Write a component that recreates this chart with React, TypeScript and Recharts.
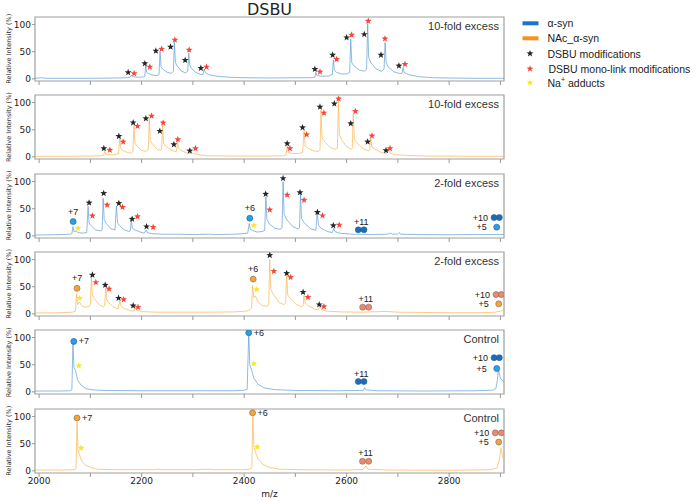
import { ComposedChart, Line, Scatter, XAxis, YAxis, ReferenceArea } from "recharts";

// axis values
const mzTicks = [2000, 2100, 2200, 2300, 2400, 2500, 2600, 2700, 2800, 2900];
const intensityTicks = [0, 50, 100];
const panelLabels = ["10-fold excess", "10-fold excess", "2-fold excess", "2-fold excess", "Control", "Control"];

// spectra: [m/z, relative intensity]
const synExcess10 = [
  [1992, 1], [2007, 2], [2012, 1], [2100, 1], [2150, 1.5], [2170, 2], [2178, 3], [2180, 7], [2182, 4], [2190, 3],
  [2200, 3], [2206, 4], [2208, 25], [2210, 12], [2213, 10], [2220, 7], [2230, 6], [2234, 8], [2236, 50], [2238, 22],
  [2241, 18], [2250, 12], [2258, 10], [2262, 14], [2264, 67], [2266, 30], [2269, 24], [2278, 14], [2286, 11], [2290, 14],
  [2292, 47], [2294, 25], [2297, 20], [2305, 12], [2315, 8], [2320, 8], [2322, 18], [2324, 12], [2330, 8], [2345, 5],
  [2370, 3], [2400, 2], [2450, 1.5], [2500, 2], [2530, 2], [2538, 3], [2540, 12], [2542, 6], [2550, 5], [2565, 5],
  [2572, 8], [2574, 35], [2576, 16], [2580, 12], [2590, 9], [2600, 9], [2606, 12], [2608, 73], [2610, 30], [2614, 24],
  [2625, 16], [2635, 14], [2639, 18], [2641, 102], [2643, 40], [2647, 30], [2658, 18], [2668, 14], [2673, 18], [2675, 67],
  [2677, 30], [2681, 22], [2692, 13], [2703, 10], [2708, 10], [2710, 21], [2712, 12], [2720, 8], [2740, 4], [2770, 2],
  [2800, 1.5], [2850, 1], [2907, 1],
];
const nacExcess10 = [
  [1992, 1], [2050, 1], [2100, 1.5], [2120, 2], [2126, 3], [2128, 10], [2130, 5], [2138, 4], [2148, 4], [2155, 6],
  [2157.5, 34], [2159.5, 15], [2163, 12], [2172, 8], [2180, 7], [2183, 9], [2185, 58], [2187, 25], [2191, 20], [2200, 12],
  [2208, 10], [2213, 13], [2215, 70], [2217, 30], [2221, 24], [2230, 14], [2237, 12], [2239, 14], [2241, 59], [2243, 25],
  [2247, 20], [2256, 13], [2265, 10], [2268, 10], [2270, 29], [2272, 16], [2277, 12], [2288, 7], [2295, 6], [2297, 9],
  [2300, 6], [2310, 4], [2330, 2], [2380, 1.5], [2450, 1.5], [2478, 2], [2482, 4], [2484, 21], [2486, 8], [2492, 6],
  [2505, 6], [2514, 8], [2517, 49], [2519, 20], [2524, 16], [2535, 11], [2545, 10], [2548, 13], [2550, 86], [2552, 35],
  [2557, 28], [2568, 17], [2578, 14], [2582, 16], [2584, 104], [2586, 40], [2591, 30], [2601, 18], [2609, 14], [2611, 16],
  [2613, 80], [2615, 32], [2620, 26], [2632, 15], [2642, 11], [2645, 12], [2647, 35], [2649, 18], [2655, 14], [2668, 8],
  [2678, 6], [2681, 12], [2684, 7], [2695, 4], [2720, 2.5], [2760, 1.5], [2850, 1], [2907, 1],
];
const synExcess2 = [
  [1992, 1.5], [2030, 2], [2060, 3], [2064, 4], [2066, 17], [2068, 8], [2072, 9], [2076, 6], [2085, 5], [2093, 6],
  [2095.6, 54], [2097.5, 24], [2101, 19], [2110, 11], [2120, 9], [2123, 11], [2125, 69], [2127, 30], [2131, 23], [2140, 13],
  [2148, 11], [2151, 55], [2153, 24], [2157, 19], [2166, 11], [2175, 8], [2178, 9], [2180, 29], [2182, 14], [2187, 11],
  [2197, 7], [2205, 5], [2209, 11], [2211, 6], [2220, 4], [2240, 3], [2270, 3], [2300, 2.5], [2330, 3], [2350, 2.5],
  [2380, 3], [2400, 4], [2407, 5], [2410, 23], [2412, 12], [2416, 10], [2425, 7], [2435, 8], [2440, 10], [2442.5, 72],
  [2444.5, 30], [2449, 22], [2460, 14], [2470, 12], [2474, 15], [2476, 100], [2478, 40], [2483, 30], [2495, 17], [2505, 13],
  [2508, 15], [2510, 78], [2512, 32], [2517, 24], [2530, 13], [2540, 10], [2542.6, 45], [2545, 20], [2550, 14], [2562, 8],
  [2572, 6], [2575, 14], [2577, 8], [2585, 5], [2610, 3], [2650, 2.5], [2680, 3], [2685, 5], [2690, 3], [2699, 3],
  [2702, 6], [2706, 3], [2740, 2.5], [2800, 2], [2850, 2.5], [2907, 2.5],
];
const nacExcess2 = [
  [1992, 1.5], [2040, 2], [2065, 3], [2071, 5], [2073, 37], [2075, 17], [2079, 22], [2083, 15], [2090, 12], [2098, 14],
  [2100, 18], [2102, 69], [2104, 35], [2108, 28], [2117, 17], [2125, 13], [2128, 15], [2130, 52], [2132, 26], [2136, 20],
  [2146, 12], [2154, 9], [2157.5, 24], [2160, 14], [2166, 10], [2177, 6], [2185, 5], [2187, 12], [2190, 7], [2200, 4],
  [2230, 3], [2280, 3], [2330, 3], [2380, 3.5], [2405, 5], [2412, 8], [2414.5, 10], [2416.5, 52], [2418.5, 30], [2422, 33],
  [2427, 22], [2436, 15], [2445, 14], [2448, 18], [2450, 100], [2452, 45], [2457, 36], [2468, 21], [2478, 17], [2481, 20],
  [2483, 77], [2485, 35], [2490, 28], [2502, 17], [2512, 13], [2515, 15], [2516.7, 34], [2519, 20], [2525, 15], [2537, 9],
  [2545, 7], [2548, 15], [2551, 8], [2560, 5], [2590, 3.5], [2630, 3], [2660, 4], [2675, 4.5], [2700, 3], [2750, 2.5],
  [2800, 2], [2860, 2], [2890, 3], [2900, 5], [2907, 8],
];
const synControl = [
  [1992, 1.5], [2040, 1.5], [2060, 2], [2064, 4], [2066, 94], [2068, 45], [2071, 40], [2075, 22], [2082, 12], [2092, 6],
  [2105, 3.5], [2130, 2.5], [2200, 2], [2300, 2], [2380, 2], [2400, 3], [2406, 5], [2409, 110], [2411, 50], [2414, 42],
  [2419, 25], [2427, 14], [2440, 7], [2460, 4], [2500, 2.5], [2580, 2], [2625, 2.5], [2633, 3], [2635, 8], [2638, 3.5],
  [2660, 2], [2750, 1.5], [2850, 2], [2885, 3], [2891, 6], [2894, 20], [2896, 42], [2900, 25], [2907, 18],
];
const nacControl = [
  [1992, 1.5], [2050, 1.5], [2068, 2], [2072, 4], [2074, 90], [2076, 40], [2078, 32], [2082, 20], [2090, 11], [2100, 6],
  [2115, 3], [2150, 2], [2225, 2], [2232, 3.5], [2238, 2], [2300, 2], [2333, 3], [2340, 2], [2400, 2], [2410, 3],
  [2415, 6], [2417, 105], [2419, 45], [2422, 35], [2427, 22], [2436, 12], [2450, 6], [2470, 3], [2520, 2], [2600, 1.5],
  [2632, 2.5], [2637.7, 9], [2641, 3], [2680, 1.5], [2800, 1], [2880, 2], [2893, 5], [2898, 20], [2901, 42], [2904, 28],
  [2907, 19],
];

// annotation stars: [m/z, intensity, kind] k = DSBU, r = mono-link, y = Na+ adduct
const starsSyn10 = [
  [2173.7, 11.8, "k"], [2185.4, 9.9, "r"], [2206.3, 28.3, "k"], [2216, 22, "r"], [2227.8, 51.5, "k"], [2239, 55, "r"],
  [2256.5, 58.8, "k"], [2265, 71.7, "r"], [2285, 34.4, "k"], [2292.8, 53.3, "r"], [2315.6, 19.7, "k"], [2326.7, 22, "r"],
  [2538, 17.8, "k"], [2548, 12.9, "r"], [2572.7, 44, "k"], [2580.5, 36, "r"], [2600, 76, "k"], [2609.8, 81, "r"],
  [2634.4, 82, "k"], [2642.2, 106.6, "r"], [2667, 44, "k"], [2674.8, 74, "r"], [2702, 24, "k"], [2713.8, 27, "r"],
];
const starsNac10 = [
  [2126.3, 15.5, "k"], [2138, 12.5, "r"], [2155.6, 38, "k"], [2164, 27.8, "r"], [2183.5, 63, "k"], [2192, 56.6, "r"],
  [2208.3, 70.6, "k"], [2219.4, 75.5, "r"], [2235.6, 47.4, "k"], [2242, 62.7, "r"], [2263, 22.8, "k"], [2270.7, 32, "r"],
  [2294, 11.2, "k"], [2305, 15.5, "r"], [2484, 24.6, "k"], [2489.4, 15.5, "r"], [2514, 54, "k"], [2522, 41, "r"],
  [2548, 92, "k"], [2555.7, 81, "r"], [2576, 98, "k"], [2584.4, 107, "r"], [2608, 61.4, "k"], [2617, 84, "r"],
  [2641, 27.8, "k"], [2649.4, 38.8, "r"], [2676.8, 11.8, "k"], [2684.6, 15.5, "r"],
];
const starsSyn2 = [
  [2076, 14, "y"], [2097.6, 61, "k"], [2104, 37, "r"], [2126, 78.5, "k"], [2132.7, 57, "r"], [2155.6, 60, "k"],
  [2162.8, 52.8, "r"], [2181.5, 31, "k"], [2192, 35.5, "r"], [2209.6, 17, "k"], [2222.5, 16, "r"], [2419, 19, "y"],
  [2442, 77, "k"], [2450, 48, "r"], [2476, 106, "k"], [2484, 75.4, "r"], [2509, 80, "k"], [2517, 66, "r"],
  [2543, 43.5, "k"], [2553, 37.3, "r"], [2574, 19, "k"], [2585.6, 20, "r"],
];
const starsNac2 = [
  [2079.4, 29, "y"], [2104, 71.7, "k"], [2110.7, 58, "r"], [2129, 53, "k"], [2136.6, 46, "r"], [2155, 29, "k"],
  [2165, 26.3, "r"], [2183.5, 15, "k"], [2193, 12.3, "r"], [2424.4, 44.7, "y"], [2450, 108, "k"], [2458, 78.4, "r"],
  [2483, 74.8, "k"], [2490.7, 67.4, "r"], [2515, 40, "k"], [2524.5, 30.7, "r"], [2546.5, 17, "k"], [2555.7, 13.4, "r"],
];
const starsSynControl = [[2077.5, 48, "y"], [2419, 52, "y"]];
const starsNacControl = [[2082, 42, "y"], [2425.5, 44, "y"]];

// charge state markers
const chargesSyn2 = [
  { z: 7, pts: [[2066.4, 26.3]] }, { z: 6, pts: [[2411, 32.5]] }, { z: 11, pts: [[2622.7, 11], [2633.8, 11]] },
  { z: 10, pts: [[2887.6, 33.6], [2897.9, 33.6]] }, { z: 5, pts: [[2892.8, 16]] },
];
const chargesNac2 = [
  { z: 7, pts: [[2074, 47]] }, { z: 6, pts: [[2417.7, 64]] }, { z: 11, pts: [[2631.3, 12.3], [2643, 12.3]] },
  { z: 10, pts: [[2891.5, 35.5], [2901.8, 35.5]] }, { z: 5, pts: [[2896.7, 18.4]] },
];
const chargesSynControl = [
  { z: 7, pts: [[2067.7, 93]] }, { z: 6, pts: [[2409, 109]] }, { z: 11, pts: [[2622.7, 19], [2633.8, 19]] },
  { z: 10, pts: [[2887.6, 63], [2897.9, 63]] }, { z: 5, pts: [[2892.8, 43]] },
];
const chargesNacControl = [
  { z: 7, pts: [[2074, 97.4]] }, { z: 6, pts: [[2416.5, 107]] }, { z: 11, pts: [[2631, 17.6], [2643, 17.6]] },
  { z: 10, pts: [[2890, 70], [2902, 70]] }, { z: 5, pts: [[2896.7, 53]] },
];

const spectra = [synExcess10, nacExcess10, synExcess2, nacExcess2, synControl, nacControl];
const starSets = [starsSyn10, starsNac10, starsSyn2, starsNac2, starsSynControl, starsNacControl];
const chargeSets: any[] = [[], [], chargesSyn2, chargesNac2, chargesSynControl, chargesNacControl];

const BLUE_LINE = "#5b9ad6";
const ORANGE_LINE = "#fbb24c";
const STAR_COLORS: Record<string, string> = { k: "#262626", r: "#f5463c", y: "#f7e827" };
const SANS = "'Liberation Sans', Arial, sans-serif";
const DEJAVU = "'DejaVu Sans', sans-serif";

const PANEL_TOP = 16.7;
const PANEL_STEP = 78.4;
const PLOT_H = 64;

function starPath(cx: number, cy: number, ro: number, ri: number) {
  const pts: string[] = [];
  for (let i = 0; i < 10; i++) {
    const r = i % 2 === 0 ? ro : ri;
    const a = -Math.PI / 2 + (i * Math.PI) / 5;
    pts.push(`${(cx + r * Math.cos(a)).toFixed(2)},${(cy + r * Math.sin(a)).toFixed(2)}`);
  }
  return `M${pts.join("L")}Z`;
}

const renderStar = (props: any) => {
  const { cx, cy, payload } = props;
  if (cx == null || cy == null) return <g />;
  return <path d={starPath(cx, cy, 3.6, 1.5)} fill={STAR_COLORS[payload.kind]} />;
};

const makeDotRenderer = (nac: boolean, control: boolean) => (props: any) => {
  const { cx, cy, payload } = props;
  if (cx == null || cy == null) return <g />;
  const multi = payload.z >= 10;
  const fill = nac ? (multi ? "#f0876f" : "#f6a43a") : multi ? "#1f6db4" : "#2a9fe2";
  const stroke = nac ? "#7a6a5a" : "#1c5f9a";
  let label = null;
  if (payload.text) {
    let tx = cx;
    let ty = cy - 10;
    let anchor = "middle";
    if (payload.z === 10) {
      tx = cx - 6;
      ty = cy;
      anchor = "end";
    } else if (payload.z === 5) {
      tx = cx - 10;
      ty = cy;
      anchor = "end";
    } else if (payload.z === 11) {
      tx = cx + 3;
      ty = cy - 8;
    } else if (control) {
      tx = cx + 5;
      ty = cy;
      anchor = "start";
    }
    label = (
      <text x={tx} y={ty} textAnchor={anchor} dominantBaseline="central" fontSize={9} fontFamily={SANS} fill="#222">
        {payload.text}
      </text>
    );
  }
  return (
    <g>
      <circle cx={cx} cy={cy} r={3} fill={fill} stroke={stroke} strokeWidth={0.6} />
      {label}
    </g>
  );
};

function Panel({ index }: { index: number }) {
  const nac = index % 2 === 1;
  const control = index >= 4;
  const bottom = index === 5;
  const xh = bottom ? 30 : 6;
  const lineData = spectra[index].map(([mz, v]) => ({ mz, v }));
  const starData = starSets[index].map(([mz, v, kind]: any) => ({ mz, v, kind }));
  const dotData = chargeSets[index].flatMap((g: any) =>
    g.pts.map(([mz, v]: number[], i: number) => ({ mz, v, z: g.z, text: i === 0 ? `+${g.z}` : "" }))
  );
  const top = PANEL_TOP + PANEL_STEP * index - 2;

  return (
    <div style={{ position: "absolute", left: 0, top }}>
      <ComposedChart width={520} height={PLOT_H + xh + 2} margin={{ top: 2, right: 16, bottom: 0, left: 0 }}>
        <XAxis
          type="number"
          dataKey="mz"
          domain={[1992, 2907]}
          ticks={mzTicks}
          interval={0}
          allowDataOverflow
          height={xh}
          axisLine={false}
          tickSize={4}
          tickMargin={1}
          tickLine={{ stroke: "#999" }}
          tick={{ fontSize: 9, fill: "#222", fontFamily: DEJAVU }}
          tickFormatter={(v: number) => (bottom && v % 200 === 0 ? String(v) : "")}
          label={bottom ? { value: "m/z", position: "insideBottom", offset: 6, fontSize: 9, fill: "#222", fontFamily: DEJAVU } : undefined}
        />
        <YAxis
          type="number"
          dataKey="v"
          domain={[-4, 114]}
          ticks={intensityTicks}
          interval={0}
          allowDataOverflow
          width={35}
          axisLine={false}
          tickSize={3}
          tickMargin={1}
          tickLine={{ stroke: "#999" }}
          tick={{ fontSize: 9, fill: "#222", fontFamily: DEJAVU }}
        />
        <ReferenceArea
          x1={1992}
          x2={2907}
          y1={-4}
          y2={114}
          fill="none"
          stroke="#a0a0a0"
          strokeWidth={1.2}
          ifOverflow="visible"
          label={{ value: panelLabels[index], position: "insideTopRight", offset: 5, fontSize: 11, fill: "#333", fontFamily: SANS }}
        />
        <Line
          data={lineData}
          dataKey="v"
          type="linear"
          stroke={nac ? ORANGE_LINE : BLUE_LINE}
          strokeWidth={0.8}
          strokeOpacity={0.85}
          dot={false}
          activeDot={false}
          isAnimationActive={false}
        />
        <Scatter data={starData} shape={renderStar} isAnimationActive={false} />
        {dotData.length > 0 && (
          <Scatter data={dotData} shape={makeDotRenderer(nac, control)} isAnimationActive={false} />
        )}
      </ComposedChart>
    </div>
  );
}

function Overlay() {
  const legendX = 547.5;
  return (
    <svg width={697} height={501} style={{ position: "absolute", left: 0, top: 0, pointerEvents: "none" }}>
      <text x={269.5} y={14.5} textAnchor="middle" fontSize={16} fontFamily={DEJAVU} fill="#222">
        DSBU
      </text>
      {[0, 1, 2, 3, 4, 5].map((i) => {
        const cy = PANEL_TOP + PANEL_STEP * i + PLOT_H / 2;
        return (
          <text
            key={i}
            x={9}
            y={cy}
            transform={`rotate(-90 9 ${cy})`}
            textAnchor="middle"
            dominantBaseline="central"
            fontSize={6.5}
            fontFamily={DEJAVU}
            fill="#333"
          >
            Relative Intensity (%)
          </text>
        );
      })}
      <line x1={522.5} x2={538.5} y1={23.3} y2={23.3} stroke="#1b74c6" strokeWidth={4} />
      <line x1={522.5} x2={538.5} y1={38.3} y2={38.3} stroke="#f7921e" strokeWidth={4} />
      <path d={starPath(530, 53.5, 3.6, 1.5)} fill={STAR_COLORS.k} />
      <path d={starPath(530, 68.8, 3.6, 1.5)} fill={STAR_COLORS.r} />
      <path d={starPath(530, 82.7, 3.6, 1.5)} fill={STAR_COLORS.y} />
      <g fontSize={10.5} fontFamily={SANS} fill="#222" dominantBaseline="central">
        <text x={legendX} y={23.3}>α-syn</text>
        <text x={legendX} y={38.3}>NAc_α-syn</text>
        <text x={legendX} y={53.5}>DSBU modifications</text>
        <text x={legendX + 1} y={68.8}>DSBU mono-link modifications</text>
        <text x={legendX} y={82.7}>
          Na
          <tspan fontSize={7} dy={-4}>+</tspan>
          <tspan dy={4}> adducts</tspan>
        </text>
      </g>
    </svg>
  );
}

export default function App() {
  return (
    <div style={{ position: "absolute", left: 0, top: 0, width: 697, height: 501, overflow: "hidden", background: "#fff" }}>
      {[0, 1, 2, 3, 4, 5].map((i) => (
        <Panel key={i} index={i} />
      ))}
      <Overlay />
    </div>
  );
}
